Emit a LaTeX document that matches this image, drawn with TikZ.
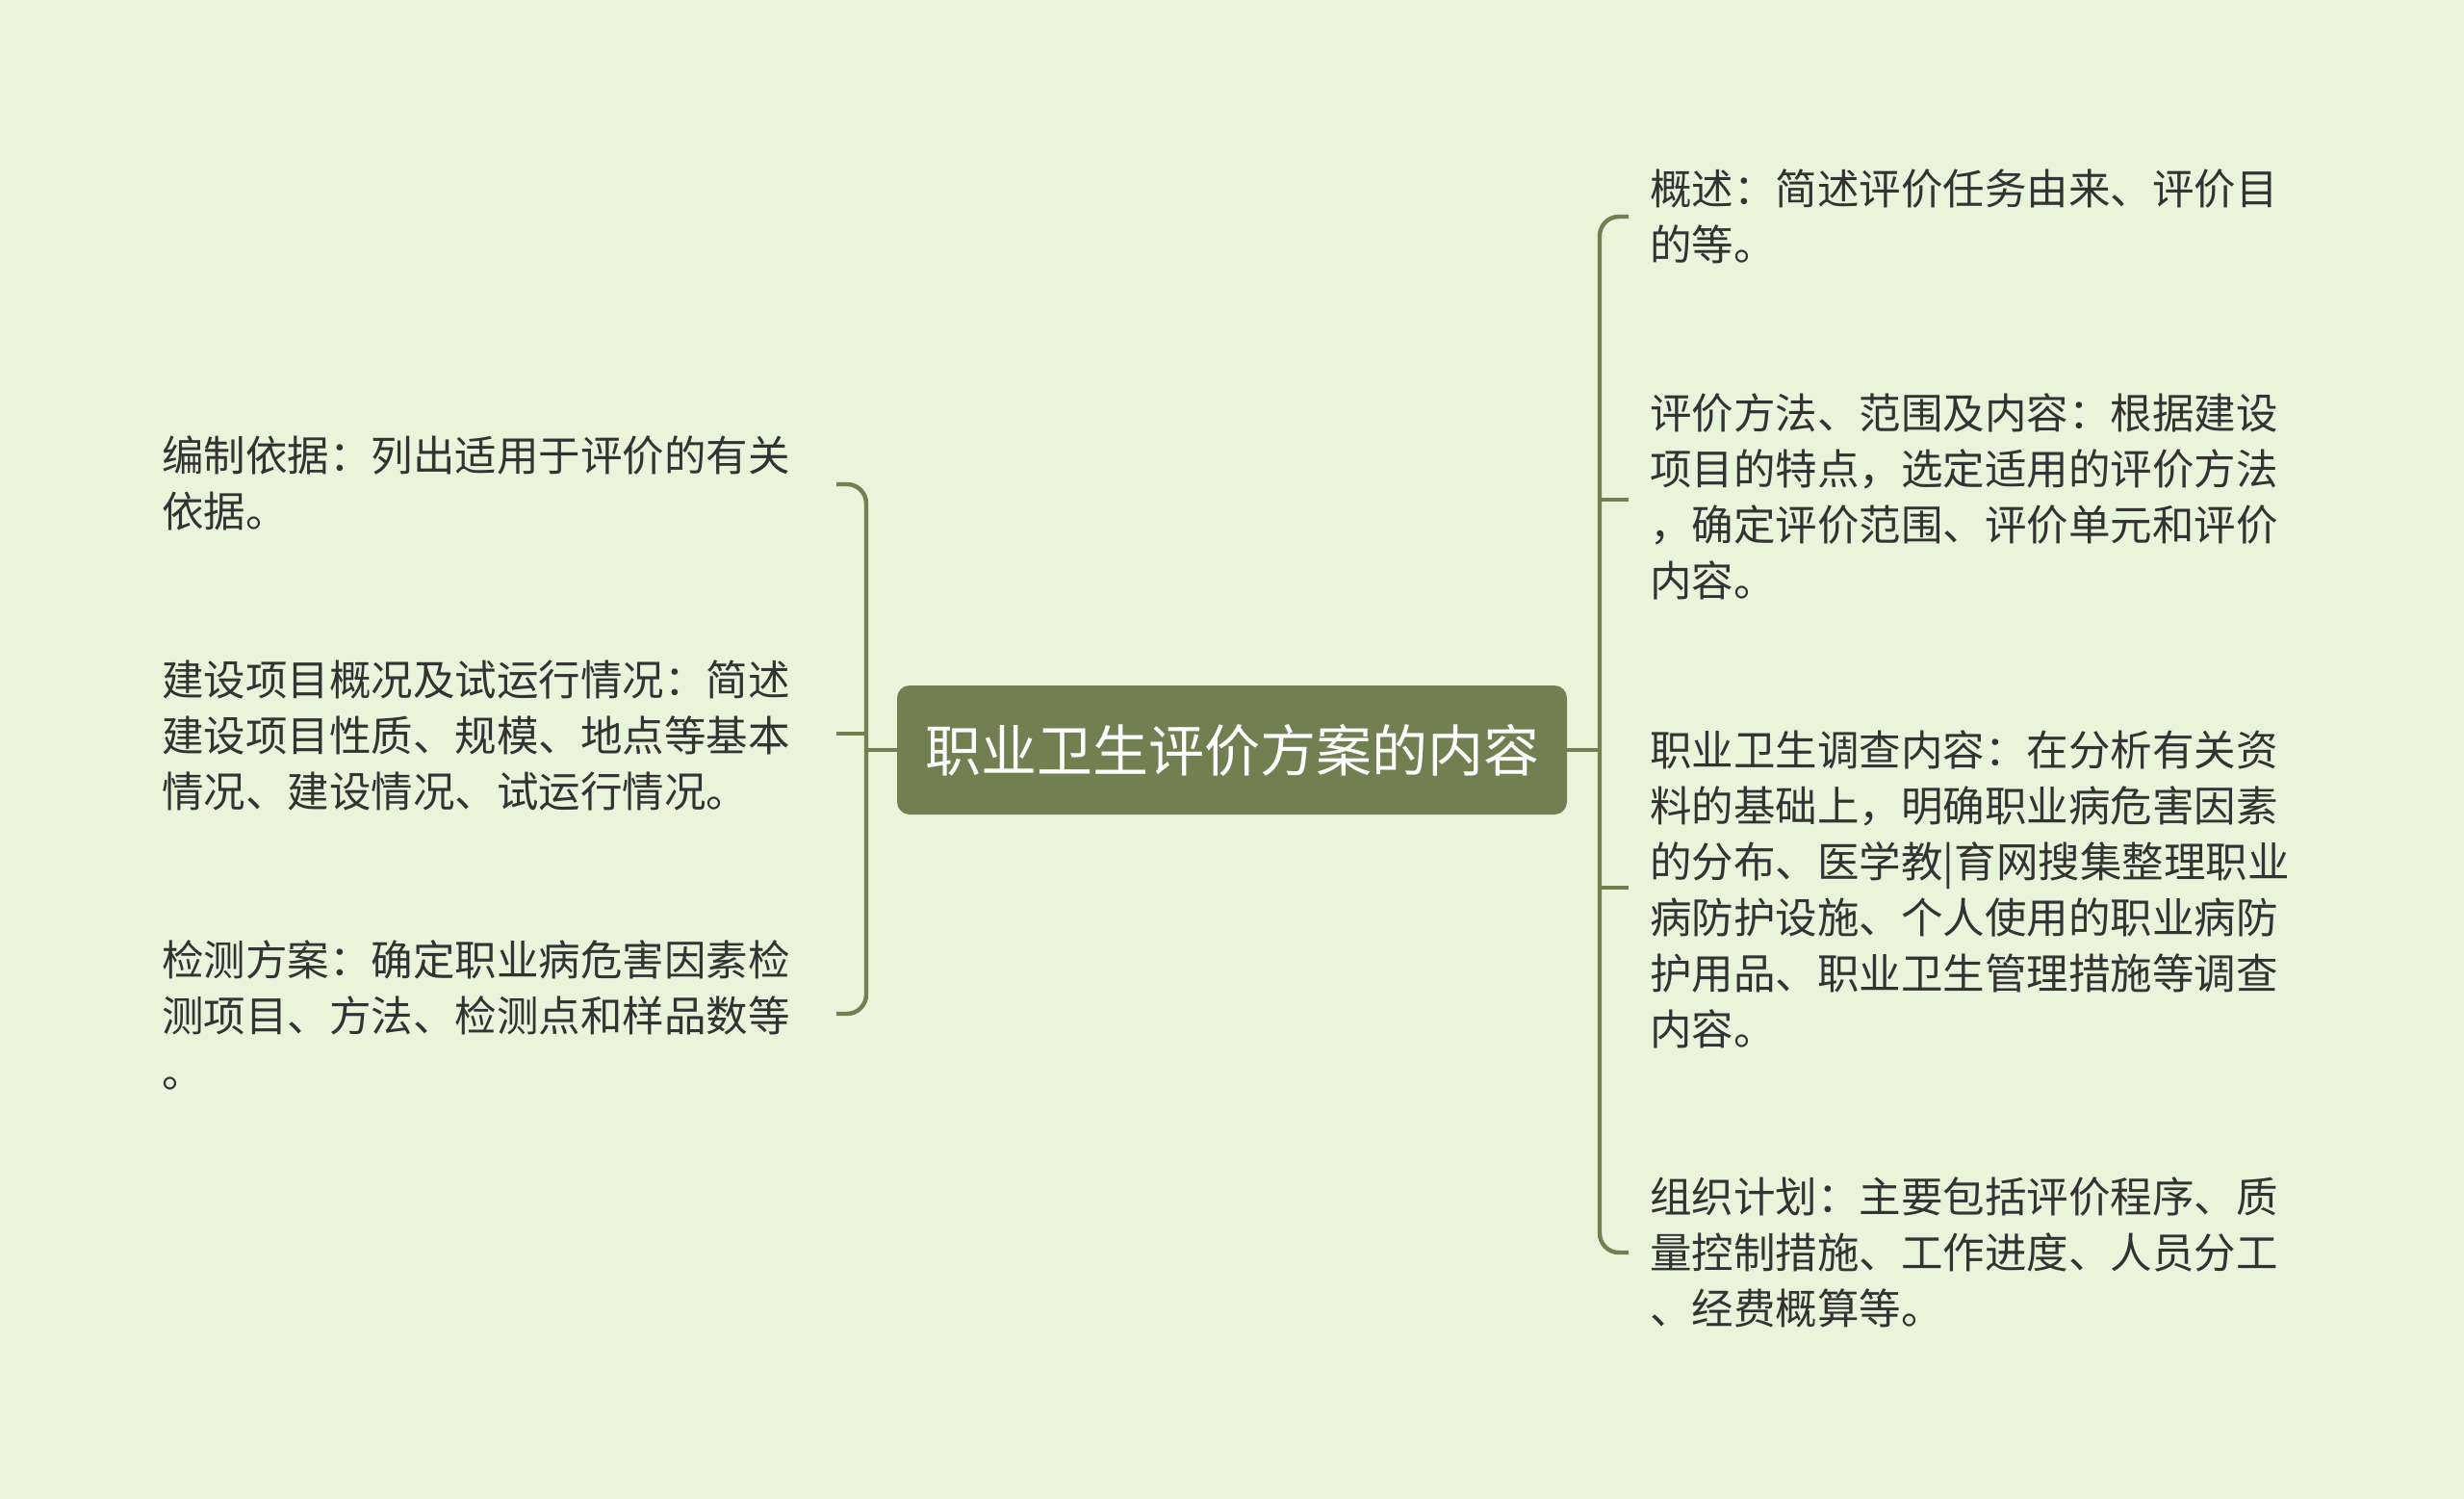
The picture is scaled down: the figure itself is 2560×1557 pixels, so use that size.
\documentclass[tikz,border=0pt]{standalone}
\usepackage{fontspec}
\newfontfamily\cjk{Noto Sans CJK SC}
\definecolor{bg}{HTML}{E8F5DB}
\definecolor{nodegreen}{HTML}{718051}
\definecolor{txt}{HTML}{333333}
\begin{document}
\begin{tikzpicture}[x=0.5pt,y=-0.5pt,
  leaf/.style={anchor=west, inner sep=0pt, align=left, text=txt, font=\cjk\fontsize{21.75pt}{29pt}\selectfont},
  root/.style={fill=nodegreen, rounded corners=6.5pt, text=white, font=\cjk\fontsize{29pt}{34pt}\selectfont, minimum width=348pt, minimum height=67pt, inner sep=0pt},
  br/.style={draw=nodegreen, line width=2.2pt, rounded corners=10pt}]
\fill[bg] (0,0) rectangle (2560,1557);
\useasboundingbox (0,0) rectangle (2560,1557);

\node[root] (c) at (1280,779) {职业卫生评价方案的内容};

% left leaves
\node[leaf] (l1) at (168,502) {编制依据：列出适用于评价的有关\\依据。};
\node[leaf] (l2) at (168,764) {建设项目概况及试运行情况：简述\\建设项目性质、规模、地点等基本\\情况、建设情况、试运行情况。};
\node[leaf] (l3) at (168,1054) {检测方案：确定职业病危害因素检\\测项目、方法、检测点和样品数等\\。};

% right leaves
\node[leaf] (r1) at (1714,225) {概述：简述评价任务由来、评价目\\的等。};
\node[leaf] (r2) at (1714,516) {评价方法、范围及内容：根据建设\\项目的特点，选定适用的评价方法\\，确定评价范围、评价单元和评价\\内容。};
\node[leaf] (r3) at (1714,924) {职业卫生调查内容：在分析有关资\\料的基础上，明确职业病危害因素\\的分布、医学教|育网搜集整理职业\\病防护设施、个人使用的职业病防\\护用品、职业卫生管理措施等调查\\内容。};
\node[leaf] (r4) at (1714,1301) {组织计划：主要包括评价程序、质\\量控制措施、工作进度、人员分工\\、经费概算等。};

% bracket coordinates
\coordinate (lb) at (900,779);
\coordinate (l1e) at (869,503);
\coordinate (l2e) at (869,762);
\coordinate (l3e) at (869,1053);
\coordinate (rb) at (1662,779);
\coordinate (r1e) at (1692,225);
\coordinate (r2e) at (1692,519);
\coordinate (r3e) at (1692,922);
\coordinate (r4e) at (1692,1301);

\draw[br] (l1e) -- (lb |- l1e) -- (lb |- l3e) -- (l3e);
\draw[br] (l2e) -- (lb |- l2e);
\draw[br] (c.west |- lb) -- (lb);

\draw[br] (r1e) -- (rb |- r1e) -- (rb |- r4e) -- (r4e);
\draw[br] (r2e) -- (rb |- r2e);
\draw[br] (r3e) -- (rb |- r3e);
\draw[br] (c.east |- rb) -- (rb);
\end{tikzpicture}
\end{document}
